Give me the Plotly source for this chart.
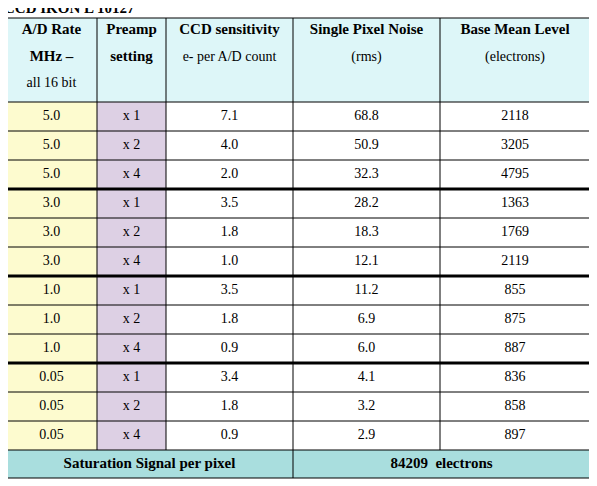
import plotly.graph_objects as go

title = "CCD IKON L 10127"
header_bold = ["A/D Rate", "Preamp", "CCD sensitivity", "Single Pixel Noise", "Base Mean Level"]
header_l2 = ["MHz –", "setting", "e- per A/D count", "(rms)", "(electrons)"]
header_l2_bold = [True, True, False, False, False]
header_l3 = ["all 16 bit", "", "", "", ""]
rate = ["5.0", "5.0", "5.0", "3.0", "3.0", "3.0", "1.0", "1.0", "1.0", "0.05", "0.05", "0.05"]
preamp = ["x 1", "x 2", "x 4"] * 4
sens = ["7.1", "4.0", "2.0", "3.5", "1.8", "1.0", "3.5", "1.8", "0.9", "3.4", "1.8", "0.9"]
noise = ["68.8", "50.9", "32.3", "28.2", "18.3", "12.1", "11.2", "6.9", "6.0", "4.1", "3.2", "2.9"]
base = ["2118", "3205", "4795", "1363", "1769", "2119", "855", "875", "887", "836", "858", "897"]
footer = ["Saturation Signal per pixel", "84209  electrons"]

cols = [6, 97, 166, 293, 440, 590]
htop, hbot = 18, 102
rh = 29
ftop, fbot = hbot + 12 * rh, hbot + 12 * rh + 28

shapes = []
def rect(x0, y0, x1, y1, fill, lw=0):
    shapes.append(dict(type="rect", x0=x0, y0=y0, x1=x1, y1=y1, fillcolor=fill,
                       line=dict(width=lw, color="black"), layer="below"))
rect(cols[0], htop, cols[5], hbot, "#ddf6f8")
rect(cols[0], hbot, cols[1], ftop, "#fdfbcf")
rect(cols[1], hbot, cols[2], ftop, "#ddd0e4")
rect(cols[0], ftop, cols[5], fbot, "#a9dede")
L = dict(color="black", width=1)
for i in range(13):
    y = hbot + i * rh
    shapes.append(dict(type="line", x0=cols[0], x1=cols[5], y0=y, y1=y,
                       line=dict(color="black", width=3 if i in (3, 6, 9) else 1)))
for y in (htop, fbot):
    shapes.append(dict(type="line", x0=cols[0], x1=cols[5], y0=y, y1=y, line=L))
for i, x in enumerate(cols):
    y1 = fbot if i in (0, 3, 5) else ftop
    shapes.append(dict(type="line", x0=x, x1=x, y0=htop, y1=y1, line=L))

fig = go.Figure()
centers = [(cols[i] + cols[i + 1]) / 2 for i in range(5)]
font = "Liberation Serif"

def txt(xs, ys, texts, size=13, bold=False, pos="middle center"):
    fig.add_trace(go.Scatter(x=xs, y=ys, mode="text", textposition=pos,
                             text=[f"<b>{t}</b>" if bold else t for t in texts],
                             textfont=dict(family=font, size=size, color="black"),
                             hoverinfo="skip", showlegend=False))

txt([4], [9], [title], 15, True, "middle right")
txt(centers, [30] * 5, header_bold, 15, True)
for c, t, b in zip(centers, header_l2, header_l2_bold):
    txt([c], [57], [t], 15 if b else 14, b)
txt(centers, [83] * 5, header_l3, 14)
ys = [hbot + rh * (i + 0.5) for i in range(12)]
for c, col in zip(centers, [rate, preamp, sens, noise, base]):
    txt([c] * 12, ys, col, 14)
txt([(cols[0] + cols[3]) / 2, (cols[3] + cols[5]) / 2], [(ftop + fbot) / 2] * 2, footer, 15, True)

off = 8
fig.update_layout(width=597, height=486, margin=dict(l=0, r=0, t=0, b=0),
                  paper_bgcolor="white", plot_bgcolor="white", shapes=shapes,
                  xaxis=dict(range=[off, 597 + off], visible=False, fixedrange=True),
                  yaxis=dict(range=[486 + off, off], visible=False, fixedrange=True))
fig.write_html("out.html")
